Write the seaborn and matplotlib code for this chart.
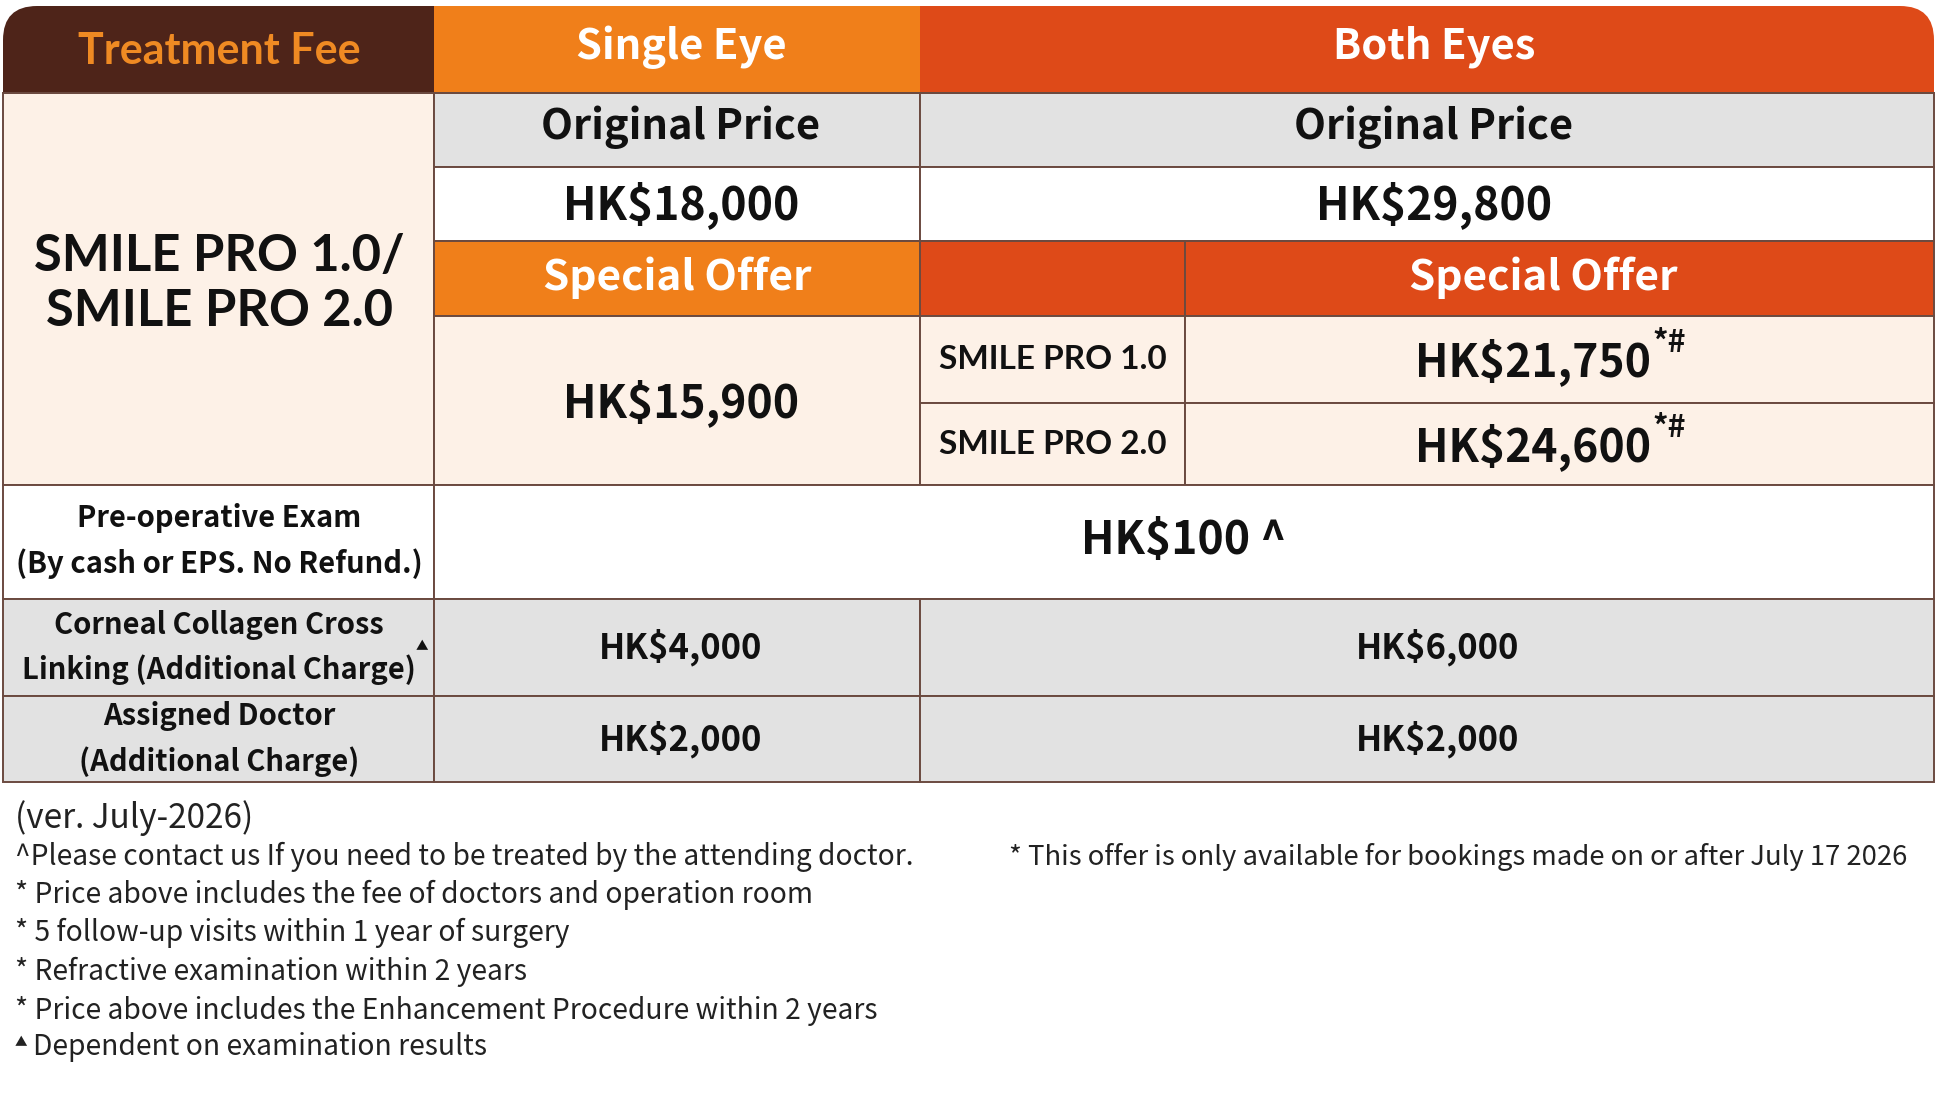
import matplotlib
matplotlib.use("Agg")
import matplotlib.pyplot as plt
from matplotlib.patches import Rectangle, FancyBboxPatch
import seaborn as sns

# Bảng giá SMILE PRO - dữ liệu
header_labels = ["Treatment Fee", "Single Eye", "Both Eyes"]
treatment_name = "SMILE PRO 1.0/\nSMILE PRO 2.0"
original_label = "Original Price"
offer_label = "Special Offer"
original_prices = ["HK$18,000", "HK$29,800"]          # single, both
single_offer_price = "HK$15,900"
both_offer_models = ["SMILE PRO 1.0", "SMILE PRO 2.0"]
both_offer_prices = ["HK$21,750", "HK$24,600"]
offer_mark = "*#"
preop_label = "Pre-operative Exam\n(By cash or EPS. No Refund.)"
preop_price = "HK$100 ^"
extra_labels = ["Corneal Collagen Cross\nLinking (Additional Charge)", "Assigned Doctor\n(Additional Charge)"]
extra_single = ["HK$4,000", "HK$2,000"]
extra_both = ["HK$6,000", "HK$2,000"]
version_note = "(ver. July-2026)"
footnotes = [
    "^Please contact us If you need to be treated by the attending doctor.",
    "* Price above includes the fee of doctors and operation room",
    "* 5 follow-up visits within 1 year of surgery",
    "* Refractive examination within 2 years",
    "* Price above includes the Enhancement Procedure within 2 years",
]
last_note = "Dependent on examination results"
offer_note = "* This offer is only available for bookings made on or after July 17 2026"

sns.set_theme(style="white")
plt.rcParams['font.family'] = ['Noto Sans CJK SC', 'DejaVu Sans']

BROWN = "#4e2419"
ORANGE = "#f07f1a"
RED = "#de4a18"
GREY = "#e2e2e2"
CREAM = "#fdf1e7"
WHITE = "#ffffff"
BORDER = "#6b4a40"
HEAD_TXT = "#ef8a23"
INK = "#111111"
NOTE = "#222222"

F_HEAD = ['Noto Sans CJK SC', 'DejaVu Sans']
F_GEO = ['Lato', 'DejaVu Sans']
F_PRICE = ['Noto Sans CJK SC', 'DejaVu Sans']

fig = plt.figure(figsize=(19.41, 10.98), dpi=100)
ax = fig.add_axes([0, 0, 1, 1])
ax.set_xlim(0, 1941)
ax.set_ylim(1098, 0)
ax.axis('off')

# lưới cột / hàng
X = [3, 434, 920, 1185, 1934]
Y = [6, 93, 167, 241, 316, 403, 485, 599, 696, 782]


def cell(x0, y0, x1, y1, color, edge=True):
    r = Rectangle((x0, y0), x1 - x0, y1 - y0, facecolor=color,
                  edgecolor=BORDER if edge else 'none', lw=1.4, zorder=1)
    ax.add_patch(r)
    return r


def txt(x, y, s, size, family, color=INK, weight='bold', ha='center', va='center', **kw):
    return ax.text(x, y, s, fontsize=size, family=family, color=color, weight=weight,
                   ha=ha, va=va, zorder=3, **kw)


# hàng tiêu đề bo góc
clip = FancyBboxPatch((X[0], Y[0]), X[4] - X[0], 300, boxstyle="round,pad=0,rounding_size=34",
                      transform=ax.transData, facecolor='none', edgecolor='none')
ax.add_patch(clip)
for (x0, x1), col in zip([(X[0], X[1]), (X[1], X[2]), (X[2], X[4])], [BROWN, ORANGE, RED]):
    r = cell(x0, Y[0], x1, Y[1], col, edge=False)
    r.set_clip_path(clip)
ax.plot([X[0], X[4]], [Y[1], Y[1]], color=BORDER, lw=1.4, zorder=2)

txt(219, 51, header_labels[0], 31, F_GEO, color=HEAD_TXT)
txt(681, 47, header_labels[1], 30, F_HEAD, color=WHITE)
txt(1434, 47, header_labels[2], 30, F_HEAD, color=WHITE)

# khối SMILE PRO
cell(X[0], Y[1], X[1], Y[6], CREAM)
txt(219, 284, treatment_name, 36.5, F_GEO, linespacing=1.22)

cell(X[1], Y[1], X[2], Y[2], GREY)
cell(X[2], Y[1], X[4], Y[2], GREY)
txt(681, 127, original_label, 30, F_HEAD)
txt(1434, 127, original_label, 30, F_HEAD)

cell(X[1], Y[2], X[2], Y[3], WHITE)
cell(X[2], Y[2], X[4], Y[3], WHITE)
txt(681, 205, original_prices[0], 32, F_PRICE, weight='heavy')
txt(1434, 205, original_prices[1], 32, F_PRICE, weight='heavy')

cell(X[1], Y[3], X[2], Y[4], ORANGE)
cell(X[2], Y[3], X[3], Y[4], RED)
cell(X[3], Y[3], X[4], Y[4], RED)
txt(677, 278, offer_label, 30.5, F_HEAD, color=WHITE)
txt(1543, 278, offer_label, 30.5, F_HEAD, color=WHITE)

cell(X[1], Y[4], X[2], Y[6], CREAM)
txt(681, 403, single_offer_price, 32, F_PRICE, weight='heavy')

for i, (model, price) in enumerate(zip(both_offer_models, both_offer_prices)):
    y0, y1 = Y[4 + i], Y[5 + i]
    cell(X[2], y0, X[3], y1, CREAM)
    cell(X[3], y0, X[4], y1, CREAM)
    yc = (y0 + y1) / 2
    txt(1053, yc, model, 24, F_GEO)
    txt(1651, yc + 3, price, 32, F_PRICE, weight='heavy', ha='right')
    txt(1652, yc - 32, offer_mark, 22, F_PRICE, ha='left', va='top')

# khám trước phẫu thuật
cell(X[0], Y[6], X[1], Y[7], WHITE)
cell(X[1], Y[6], X[4], Y[7], WHITE)
txt(219, 541, preop_label, 21, F_HEAD, linespacing=1.6)
txt(1184, 541, preop_price, 32, F_PRICE, weight='heavy')

# phí bổ sung
for i, (lab, p1, p2) in enumerate(zip(extra_labels, extra_single, extra_both)):
    y0, y1 = Y[7 + i], Y[8 + i]
    cell(X[0], y0, X[1], y1, GREY)
    cell(X[1], y0, X[2], y1, GREY)
    cell(X[2], y0, X[4], y1, GREY)
    yc = (y0 + y1) / 2
    txt(219, yc, lab, 21, F_HEAD, linespacing=1.6)
    txt(681, yc, p1, 25, F_PRICE, weight='heavy')
    txt(1438, yc, p2, 25, F_PRICE, weight='heavy')
txt(422, 647, "\u25b2", 9, F_HEAD, weight='normal')

# ghi chú
txt(15, 818, version_note, 24, F_HEAD, weight='normal', ha='left', color=NOTE)
for i, note in enumerate(footnotes):
    txt(15, [857, 895, 933, 972, 1011][i], note, 20.3, F_HEAD, weight='normal',
        ha='left', color=NOTE)
txt(15, 1043, "\u25b2", 9, F_HEAD, weight='normal', ha='left', color=NOTE)
txt(33, 1047, last_note, 20.3, F_HEAD, weight='normal', ha='left', color=NOTE)
txt(1009, 857, offer_note, 19.8, F_HEAD, weight='normal', ha='left', color=NOTE)

fig.savefig("out.png", dpi=100)
